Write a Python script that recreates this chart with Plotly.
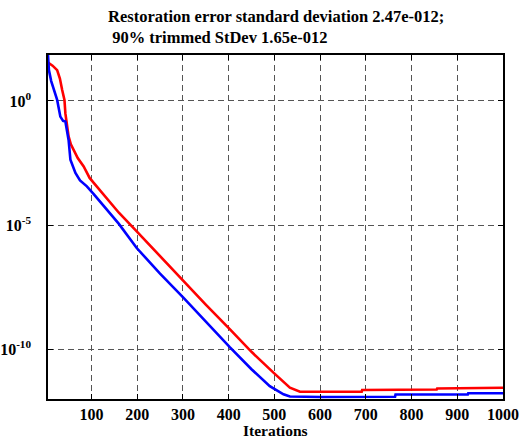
import plotly.graph_objects as go

# Iteration numbers and error values
red_iter = [5, 8, 15, 25, 31, 36, 41, 43, 46, 50, 55, 61, 70, 83, 96, 105, 130, 160, 199, 250,
            301, 350, 403, 450, 498, 520, 534, 556, 600, 643, 691, 692, 767, 768, 855, 856, 949, 950, 1000]
red_err = [35.5, 32.4, 26.3, 17.4, 7.94, 2.75, 1.10, 0.316, 0.126, 0.0372, 0.0178, 0.0107, 5.0e-3,
           2.29e-3, 7.94e-4, 5.0e-4, 1.41e-4, 3.16e-5, 5.62e-6, 5.62e-7, 5.5e-8, 6.31e-9, 6.31e-10,
           7.94e-11, 1.15e-11, 5.0e-12, 2.88e-12, 1.95e-12, 1.95e-12, 1.95e-12, 1.95e-12, 2.29e-12,
           2.29e-12, 2.40e-12, 2.40e-12, 2.63e-12, 2.63e-12, 2.82e-12, 2.82e-12]

blue_iter = [5, 7, 12, 18, 25, 32, 38, 43, 47, 50, 54, 60, 65, 75, 90, 105, 130, 160, 199, 250,
             301, 350, 403, 450, 490, 520, 534, 600, 700, 764, 765, 923, 924, 1000]
blue_err = [70.8, 17.4, 6.31, 2.75, 1.10, 0.234, 0.158, 0.148, 0.0631, 0.0269, 4.27e-3, 2.0e-3,
            1.26e-3, 6.31e-4, 3.63e-4, 1.78e-4, 5.01e-5, 1.12e-5, 1.20e-6, 1.12e-7, 1.20e-8,
            1.26e-9, 1.20e-10, 1.58e-11, 3.31e-12, 1.55e-12, 1.26e-12, 1.20e-12, 1.20e-12,
            1.23e-12, 1.51e-12, 1.51e-12, 1.70e-12, 1.70e-12]

x_ticks = [100, 200, 300, 400, 500, 600, 700, 800, 900, 1000]
y_ticks = [1, 1e-5, 1e-10]
y_tick_text = ["10<sup>0</sup>", "10<sup>-5</sup>", "10<sup>-10</sup>"]

title_text = "<b>Restoration error standard deviation 2.47e-012;<br> 90% trimmed StDev 1.65e-012</b>"

FONT = "Liberation Serif, Times New Roman, serif"

fig = go.Figure()
fig.add_trace(go.Scatter(x=red_iter, y=red_err, mode="lines",
                         line=dict(color="#ff0000", width=2.6), showlegend=False))
fig.add_trace(go.Scatter(x=blue_iter, y=blue_err, mode="lines",
                         line=dict(color="#0000ff", width=2.6), showlegend=False))

fig.update_layout(
    width=526, height=440,
    margin=dict(l=48, r=23, t=55, b=41),
    paper_bgcolor="white", plot_bgcolor="white",
    font=dict(family=FONT, size=16, color="black", weight="bold"),
    annotations=[
        dict(text=title_text, xref="paper", yref="paper", x=0.5, y=1.0,
             yshift=6, xanchor="center", yanchor="bottom", align="left",
             showarrow=False, font=dict(family=FONT, size=16.5, color="black")),
        dict(text="<b>Iterations</b>", xref="paper", yref="paper", x=0.5, y=0.0,
             yshift=-31, xanchor="center", yanchor="middle",
             showarrow=False, font=dict(family=FONT, size=15.5, color="black")),
    ],
)
fig.update_xaxes(
    range=[5, 1000], tickvals=x_ticks, ticks="inside", ticklen=5, tickcolor="black",
    showline=True, linecolor="black", linewidth=1.5, mirror="ticks",
    showgrid=True, gridcolor="#555555", gridwidth=1, griddash="6px,4px",
    zeroline=False, automargin=False,
    tickfont=dict(size=16, weight="bold"),
)
fig.update_yaxes(
    type="log", range=[-12, 1.85], tickvals=y_ticks, ticktext=y_tick_text,
    ticks="inside", ticklen=5, tickcolor="black",
    showline=True, linecolor="black", linewidth=1.5, mirror="ticks",
    showgrid=True, gridcolor="#555555", gridwidth=1, griddash="6px,4px",
    zeroline=False, ticklabelstandoff=12, automargin=False,
    tickfont=dict(size=16, weight="bold"),
)

fig.write_html("out.html", config={"displayModeBar": False},
               post_script="document.body.style.margin='0';")
